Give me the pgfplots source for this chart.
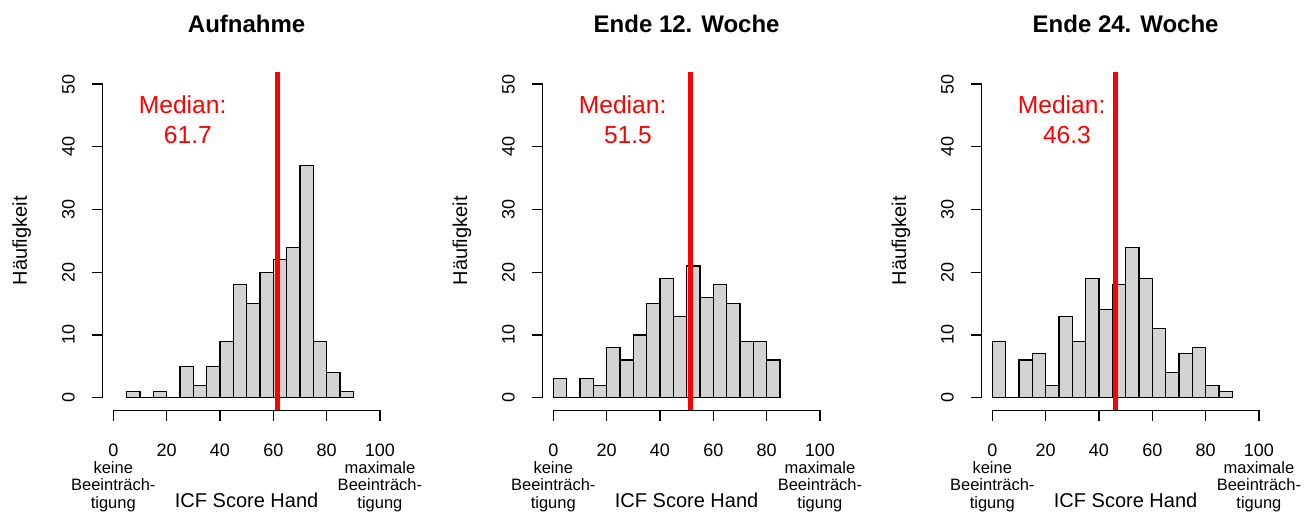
\documentclass[border=0pt]{standalone}
\usepackage{fontspec}
\setmainfont{Liberation Sans}
\usepackage{pgfplots}
\pgfplotsset{compat=1.18}
\definecolor{histgray}{RGB}{211,211,211}
\definecolor{rred}{RGB}{255,0,0}

% one R-style histogram panel: 1px of the reference = 0.5pt
\pgfplotsset{
  icfpanel/.style={
    scale only axis, width=144pt, height=169.35pt, anchor=south west,
    xmin=-4, xmax=104, ymin=-2, ymax=52,
    clip=false,
    axis x line*=bottom, axis y line*=left,
    axis line style={draw=none},
    xtick={0,20,40,60,80,100}, ytick={0,10,20,30,40,50},
    tick align=outside, major tick length=5.5pt,
    tick style={black, line width=0.6pt},
    /pgf/number format/assume math mode=true,
    ticklabel style={font=\fontsize{9}{10}\selectfont},
    xticklabel style={inner sep=0pt, yshift=-17.4pt, anchor=base},
    yticklabel style={inner sep=0pt, xshift=-8.5pt, rotate=90, anchor=base},
    extra x ticks={0,100},
    extra x tick labels={keine\\Beeinträch-\\tigung,maximale\\Beeinträch-\\tigung},
    extra x tick style={major tick length=0pt,
      tick label style={align=center, inner sep=0pt, yshift=-31.5pt, anchor=north,
        font=\fontsize{8.25}{8.75}\selectfont}},
    every axis title/.style={at={(axis description cs:0.5,1.1166)}, anchor=base,
      inner sep=0pt, font=\bfseries\fontsize{12}{14}\selectfont},
    xlabel={ICF Score Hand}, ylabel={Häufigkeit},
    xlabel style={at={(axis description cs:0.5,-0.2867)}, anchor=base,
      inner sep=0pt, font=\fontsize{10}{12}\selectfont},
    ylabel style={at={(axis description cs:-0.2625,0.5)}, anchor=base,
      inner sep=0pt, font=\fontsize{10}{12}\selectfont},
  },
  histbar/.style={ybar interval, fill=histgray, draw=black, line width=0.6pt},
  medline/.style={rred, line width=2.65pt},
  rline/.style={black, line width=0.6pt},
}
\tikzset{medtext/.style={rred, anchor=base, inner sep=0pt, font=\fontsize{12.3}{14}\selectfont}}

\begin{document}
\begin{tikzpicture}
\path (0,0) rectangle (657.5pt,258pt);

% Aufnahme
\begin{axis}[icfpanel, at={(51.3pt,52.9pt)}, title={Aufnahme}]
\addplot[histbar] coordinates {
  (5,1) (10,0) (15,1) (20,0) (25,5) (30,2) (35,5) (40,9) (45,18)
  (50,15) (55,20) (60,22) (65,24) (70,37) (75,9) (80,4) (85,1) (90,0)};
\addplot[rline] coordinates {(5,0) (90,0)};
\addplot[medline] coordinates {(61.7,-2) (61.7,52)};
\addplot[rline] coordinates {(0,-2) (100,-2)};
\addplot[rline] coordinates {(-4,0) (-4,50)};
\node[medtext] at (axis cs:26,45.3) {Median:};
\node[medtext] at (axis cs:28,40.55) {61.7};
\end{axis}

% Ende 12. Woche
\begin{axis}[icfpanel, at={(271.3pt,52.9pt)}, title={Ende 12. Woche}]
\addplot[histbar] coordinates {
  (0,3) (5,0) (10,3) (15,2) (20,8) (25,6) (30,10) (35,15) (40,19)
  (45,13) (50,21) (55,16) (60,18) (65,15) (70,9) (75,9) (80,6) (85,0)};
\addplot[rline] coordinates {(0,0) (85,0)};
\addplot[medline] coordinates {(51.5,-2) (51.5,52)};
\addplot[rline] coordinates {(0,-2) (100,-2)};
\addplot[rline] coordinates {(-4,0) (-4,50)};
\node[medtext] at (axis cs:26,45.3) {Median:};
\node[medtext] at (axis cs:28,40.55) {51.5};
\end{axis}

% Ende 24. Woche
\begin{axis}[icfpanel, at={(490.8pt,52.9pt)}, title={Ende 24. Woche}]
\addplot[histbar] coordinates {
  (0,9) (5,0) (10,6) (15,7) (20,2) (25,13) (30,9) (35,19) (40,14)
  (45,18) (50,24) (55,19) (60,11) (65,4) (70,7) (75,8) (80,2) (85,1) (90,0)};
\addplot[rline] coordinates {(0,0) (90,0)};
\addplot[medline] coordinates {(46.3,-2) (46.3,52)};
\addplot[rline] coordinates {(0,-2) (100,-2)};
\addplot[rline] coordinates {(-4,0) (-4,50)};
\node[medtext] at (axis cs:26,45.3) {Median:};
\node[medtext] at (axis cs:28,40.55) {46.3};
\end{axis}
\end{tikzpicture}
\end{document}
